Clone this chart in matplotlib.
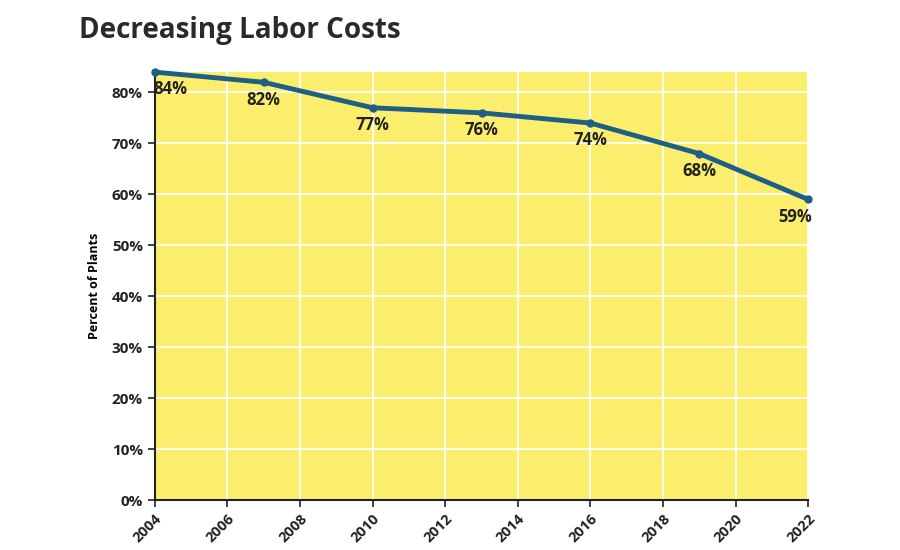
import matplotlib.pyplot as plt

years = [2004, 2007, 2010, 2013, 2016, 2019, 2022]
percent = [84, 82, 77, 76, 74, 68, 59]
labels = ['84%', '82%', '77%', '76%', '74%', '68%', '59%']
x_ticks = list(range(2004, 2023, 2))
y_ticks = list(range(0, 81, 10))

plt.rcParams['font.family'] = ['Open Sans', 'DejaVu Sans']

fig = plt.figure(figsize=(9, 5.5), dpi=100)
ax = fig.add_axes([0.172, 0.0909, 0.726, 0.778])
ax.set_facecolor('#fbee6c')

ax.plot(years, percent, color='#1d5f85', linewidth=3.5, marker='o',
        markersize=5, clip_on=False, zorder=3)

for i, (x, y, t) in enumerate(zip(years, percent, labels)):
    ha = 'center'
    dx = 0
    if i == 0:
        ha, dx = 'left', -1
    elif i == len(years) - 1:
        ha, dx = 'right', 3
    ax.annotate(t, (x, y), xytext=(dx, -6), textcoords='offset points',
                ha=ha, va='top', fontsize=12, fontweight='bold', color='#222222')

ax.set_xlim(2004, 2022)
ax.set_ylim(0, 84)
ax.set_xticks(x_ticks)
ax.set_xticklabels([str(v) for v in x_ticks], rotation=45, ha='right',
                   rotation_mode='anchor', fontweight='bold', fontsize=10.5)
ax.set_yticks(y_ticks)
ax.set_yticklabels([f'{v}%' for v in y_ticks], fontweight='bold', fontsize=11)
ax.tick_params(axis='both', length=5, width=1.2, color='#222222', labelcolor='#222222')

ax.grid(True, color='white', linewidth=1.3)
ax.set_axisbelow(True)
for s in ['top', 'right']:
    ax.spines[s].set_visible(False)
for s in ['left', 'bottom']:
    ax.spines[s].set_linewidth(1.5)
    ax.spines[s].set_color('#222222')

ax.set_ylabel('Percent of Plants', fontweight='bold', fontsize=9, labelpad=8)

fig.text(0.088, 0.945, 'Decreasing Labor Costs', fontsize=20, fontweight='bold',
         color='#2a2a2a', va='center', ha='left')

fig.savefig('out.png', dpi=100)
